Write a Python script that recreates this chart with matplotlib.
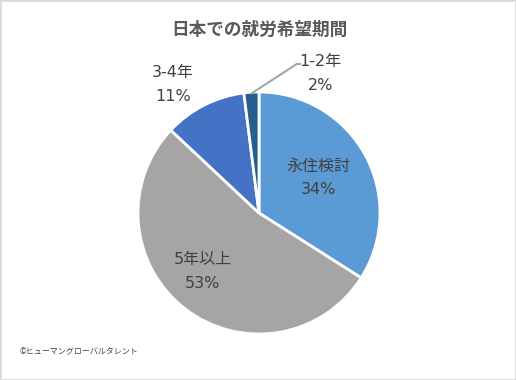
import matplotlib.pyplot as plt
import numpy as np

plt.rcParams['font.family'] = ['Noto Sans CJK JP', 'DejaVu Sans']

labels = ['永住検討', '5年以上', '3-4年', '1-2年']
values = [34, 53, 11, 2]
colors = ['#5B9BD5', '#A5A5A5', '#4472C4', '#255E91']

fig = plt.figure(figsize=(5.16, 3.80), dpi=100)
fig.patches.append(plt.Rectangle((0, 0), 1, 1, transform=fig.transFigure,
                                 fill=False, edgecolor='#D9D9D9', linewidth=2))

# pie centre ~(259, 213) px, radius ~121 px
ax = fig.add_axes([138 / 516, 1 - 334 / 380, 242 / 516, 242 / 380])
wedges, _ = ax.pie(values, colors=colors, startangle=90, counterclock=False,
                   radius=1, wedgeprops=dict(edgecolor='white', linewidth=2))
ax.set_xlim(-1, 1)
ax.set_ylim(-1, 1)
ax.set_aspect('equal')
ax.axis('off')

tc = '#404040'
lfont = ['DejaVu Sans', 'Noto Sans CJK JP']
offsets = [(0.49, 0.29), (-0.465, -0.48), (-0.71, 1.06)]
for lab, v, (x, y) in zip(labels[:3], values[:3], offsets):
    ax.text(x, y, f'{lab}\n{v}%', ha='center', va='center', family=lfont,
            fontsize=11.5, color=tc, linespacing=1.75, clip_on=False)

# small slice with leader line
w = wedges[3]
ang = np.deg2rad((w.theta1 + w.theta2) / 2)
ex, ey = 0.99 * np.cos(ang), 0.99 * np.sin(ang)
ax.annotate('', xy=(ex, ey), xytext=(0.31, 1.23),
            arrowprops=dict(arrowstyle='-', color='#A6A6A6', lw=1.5,
                            shrinkA=0, shrinkB=0), annotation_clip=False)
ax.plot([0.31, 0.34], [1.23, 1.23], color='#A6A6A6', lw=1.5, clip_on=False)
ax.text(0.51, 1.15, f'{labels[3]}\n{values[3]}%', ha='center', va='center',
        family=lfont, fontsize=11.5, color=tc, linespacing=1.75, clip_on=False)

fig.text(259 / 516, 1 - 30 / 380, '日本での就労希望期間', ha='center', va='center',
         fontsize=12.7, fontweight='bold', color='#595959')
fig.text(20 / 516, 1 - 352 / 380, '©ヒューマングローバルタレント', ha='left',
         va='center', fontsize=5.8, color='#404040')

fig.savefig('out.png', dpi=100)
